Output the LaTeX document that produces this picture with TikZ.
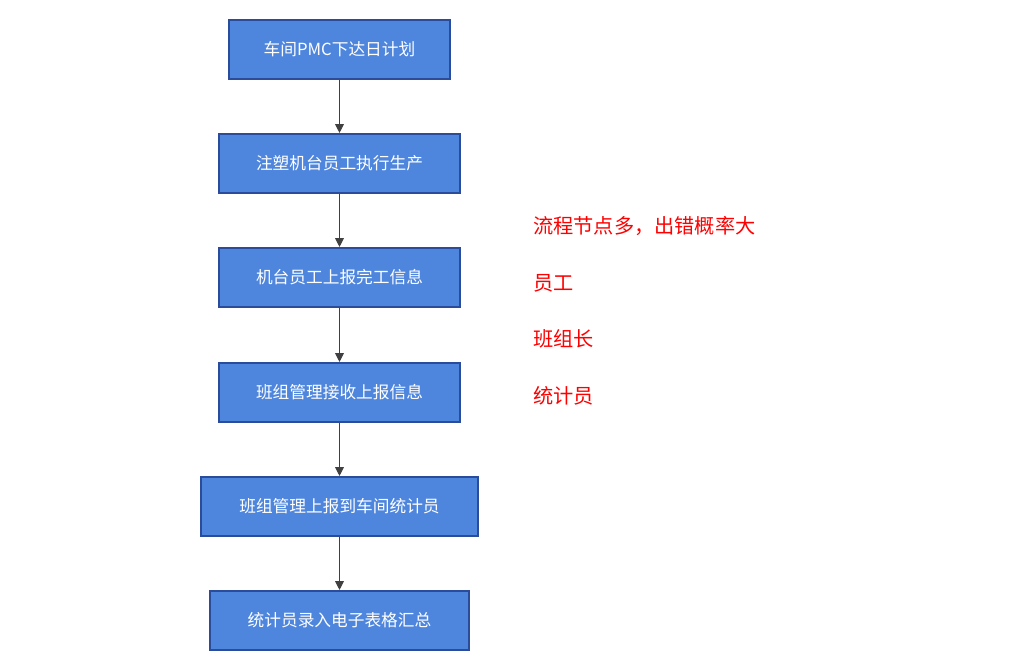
\documentclass[tikz,border=0pt]{standalone}
\usepackage{fontspec}
\setmainfont{Noto Sans CJK SC}
\usetikzlibrary{positioning,arrows.meta}
\definecolor{boxfill}{HTML}{4F86DD}
\definecolor{boxline}{HTML}{2B4C9A}
\tikzset{
  stage/.style={draw=boxline, line width=1.2pt, fill=boxfill, text=white,
    minimum height=1.18cm, font=\fontsize{9.5}{11}\selectfont, inner sep=0pt},
  flow/.style={draw=black!75, line width=0.6pt, -{Triangle[length=5pt,width=5pt]}},
  note/.style={text=red, anchor=west, font=\fontsize{11.5}{13}\selectfont}
}
\begin{document}
\begin{tikzpicture}[x=0.02cm,y=-0.02cm]
\useasboundingbox (0,0) rectangle (1024,659);
\node[stage, minimum width=4.42cm] (s1) at (339.5,49.5) {车间PMC下达日计划};
\node[stage, minimum width=4.82cm] (s2) at (339.5,163.5) {注塑机台员工执行生产};
\node[stage, minimum width=4.82cm] (s3) at (339.5,277.5) {机台员工上报完工信息};
\node[stage, minimum width=4.82cm] (s4) at (339.5,392.5) {班组管理接收上报信息};
\node[stage, minimum width=5.54cm] (s5) at (339.5,506.5) {班组管理上报到车间统计员};
\node[stage, minimum width=5.18cm] (s6) at (339.5,620.5) {统计员录入电子表格汇总};

\draw[flow] (s1) -- (s2);
\draw[flow] (s2) -- (s3);
\draw[flow] (s3) -- (s4);
\draw[flow] (s4) -- (s5);
\draw[flow] (s5) -- (s6);

\node[note] (n1) at (527,226) {流程节点多，出错概率大};
\node[note] (n2) at (527,283) {员工};
\node[note] (n3) at (527,339) {班组长};
\node[note] (n4) at (527,396) {统计员};
\end{tikzpicture}
\end{document}
